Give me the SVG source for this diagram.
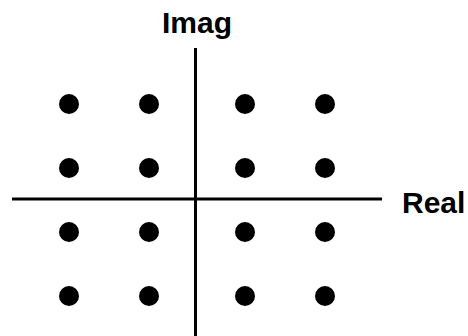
<svg xmlns="http://www.w3.org/2000/svg" width="468" height="336" viewBox="0 0 468 336">
<style>
.axis{stroke:#000;stroke-width:3;fill:none}
.dot{fill:#000}
.lbl{font-family:"Liberation Sans",Arial,sans-serif;font-weight:bold;font-size:30px;fill:#000}
</style>
<rect width="468" height="336" fill="#fff"/>
<g id="connectors">
<line class="axis" x1="195.5" y1="48" x2="195.5" y2="336"/>
<line class="axis" x1="12" y1="199" x2="382" y2="199"/>
</g>
<g id="labels">
<text id="imag" class="lbl" x="162" y="33">Imag</text>
<text id="real" class="lbl" x="402" y="213">Real</text>
</g>
<g id="points">
<circle class="dot" cx="69" cy="104" r="10"/>
<circle class="dot" cx="149" cy="104" r="10"/>
<circle class="dot" cx="245" cy="104" r="10"/>
<circle class="dot" cx="325" cy="104" r="10"/>
<circle class="dot" cx="69" cy="168" r="10"/>
<circle class="dot" cx="149" cy="168" r="10"/>
<circle class="dot" cx="245" cy="168" r="10"/>
<circle class="dot" cx="325" cy="168" r="10"/>
<circle class="dot" cx="69" cy="232" r="10"/>
<circle class="dot" cx="149" cy="232" r="10"/>
<circle class="dot" cx="245" cy="232" r="10"/>
<circle class="dot" cx="325" cy="232" r="10"/>
<circle class="dot" cx="69" cy="296" r="10"/>
<circle class="dot" cx="149" cy="296" r="10"/>
<circle class="dot" cx="245" cy="296" r="10"/>
<circle class="dot" cx="325" cy="296" r="10"/>
</g>
</svg>
